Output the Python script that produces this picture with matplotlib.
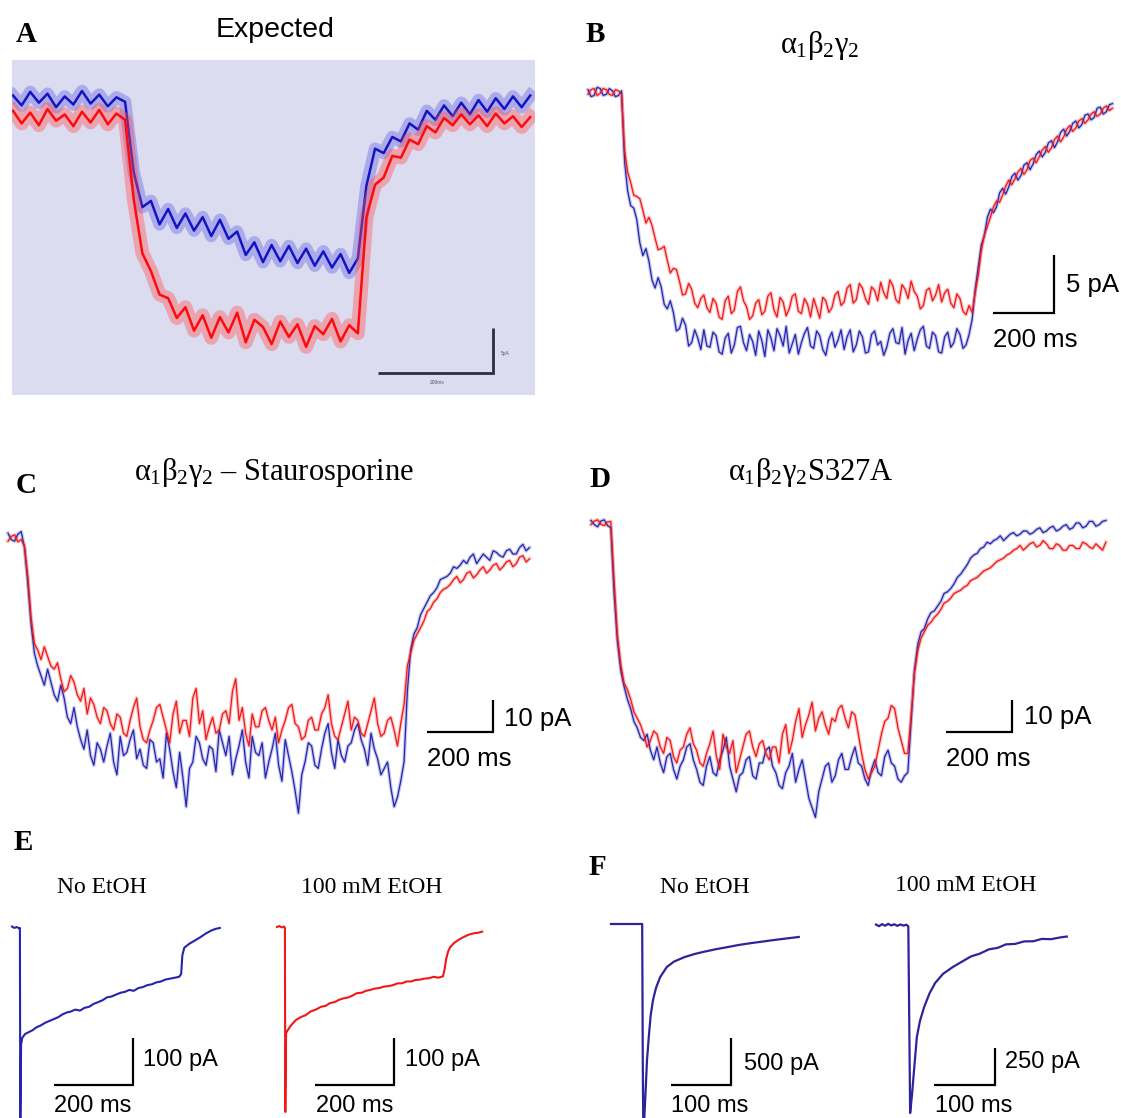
import numpy as np
import matplotlib
matplotlib.use('Agg')
import matplotlib.pyplot as plt

plt.rcParams['mathtext.fontset'] = 'custom'
plt.rcParams['mathtext.rm'] = 'Liberation Serif'
plt.rcParams['mathtext.it'] = 'Liberation Serif'
plt.rcParams['mathtext.bf'] = 'Liberation Serif:bold'

# ---------------- DATA (ms, pA) ----------------
# Panel A "Expected" (sample interval 15 ms)
A_DT = 15
A_blue = [0.5, -0.6, 0.9, -0.3, 0.7, -0.8, 0.4, -0.5, 1.0, -0.4, 0.6, -0.7, 0.3, -0.2,
          -8.0, -11.9, -11.2, -13.8, -12.1, -14.2, -12.6, -14.5, -13.0, -15.1, -13.3, -15.4, -14.6, -17.2,
          -15.8, -18.0, -16.1, -17.9, -16.2, -18.1, -16.5, -18.4, -16.8, -18.6, -17.1, -19.2, -17.6,
          -9.5, -5.4, -5.9, -4.1, -4.6, -2.6, -3.3, -1.2, -2.2, -0.6, -1.8, -0.3, -1.6, 0.0, -1.3, 0.2,
          -1.0, 0.4, -0.8, 0.5]
A_red = [-1.2, -2.6, -1.4, -2.8, -1.0, -2.3, -1.6, -2.9, -1.3, -2.5, -1.1, -2.7, -1.5, -2.2,
         -11.0, -17.0, -19.0, -21.6, -22.0, -24.2, -23.0, -25.6, -23.9, -26.4, -24.1, -25.8, -23.6, -26.9,
         -24.4, -25.2, -27.1, -24.6, -26.3, -24.9, -27.4, -25.1, -26.0, -24.3, -26.8, -25.0, -25.9,
         -13.0, -9.4, -8.6, -6.2, -6.4, -4.4, -4.9, -2.9, -3.6, -2.0, -2.8, -1.6, -2.7, -1.7, -2.9,
         -1.5, -2.6, -1.8, -3.0, -1.9]
A_SCALE = (200, 5)

# Panel B alpha1beta2gamma2 (sample interval 10 ms)
B_DT = 10
B_blue = [0.2, -0.4, -0.3, 0.4, 0.3, -0.3, -0.2, 0.3, 0.1, -0.4, -0.3, 0.1,
          -6.0, -8.5, -9.8, -10.0, -11.0, -13.0, -14.1, -13.5, -14.6, -16.2, -16.9, -16.0, -16.8,
          -18.3, -18.7, -18.0, -19.0, -20.6, -20.4, -19.5, -20.1, -21.9, -21.6, -20.5, -21.2, -22.2,
          -20.5, -21.9, -22.0, -20.7, -21.0, -22.4, -22.6, -21.2, -20.8, -22.5, -21.8, -20.3, -20.2, -21.6,
          -22.3, -20.9, -21.5, -22.7, -20.6, -21.4, -22.8, -20.5, -21.2, -22.3, -20.4, -21.0, -21.9, -20.2,
          -22.5, -21.7, -20.9, -22.6, -21.6, -20.8, -20.3, -21.9, -22.1, -20.6, -21.0, -22.2, -22.7, -21.3,
          -20.7, -22.0, -21.4, -20.5, -22.2, -21.1, -20.5, -22.4, -21.8, -20.6, -21.1, -22.5, -22.4, -20.9,
          -20.6, -21.8, -21.5, -22.7, -22.0, -20.8, -20.4, -21.6, -21.7, -20.3, -22.6, -21.4, -20.8, -22.3,
          -21.3, -20.5, -20.2, -21.9, -22.1, -20.7, -21.0, -22.4, -22.5, -21.1, -20.7, -22.0, -21.6, -20.4,
          -20.9, -22.1, -21.8, -20.9,
          -19.6, -17.0, -15.1, -13.2, -12.4, -10.8, -10.1, -10.4, -9.9, -8.7, -8.3, -8.8, -8.2, -7.3,
          -7.0, -7.6, -7.2, -6.3, -6.1, -6.7, -6.2, -5.4, -5.1, -5.6, -5.2, -4.4, -4.2, -4.8, -4.3, -3.5,
          -3.2, -3.8, -3.4, -2.7, -2.5, -3.1, -2.8, -2.0, -1.9, -2.4, -2.2, -1.4, -1.3, -1.9, -1.7, -1.1,
          -1.0]
B_red = [-0.2, 0.2, 0.3, -0.3, -0.1, 0.3, 0.2, -0.2, -0.3, 0.2, 0.1, -0.2,
         -5.0, -6.9, -7.8, -8.9, -9.0, -9.2, -10.2, -11.3, -10.8, -11.5, -12.6, -13.6, -13.5, -13.3,
         -14.5, -15.6, -15.2, -15.3, -16.3, -17.5, -17.4, -16.5, -17.0, -18.2, -18.6, -17.8,
         -17.5, -18.6, -19.0, -17.8, -18.2, -19.4, -19.6, -18.0, -17.6, -19.1, -18.8, -17.2, -16.8, -18.0,
         -18.5, -19.6, -19.3, -18.2, -17.9, -19.2, -18.9, -17.6, -17.3, -18.8, -19.4, -17.7, -18.1, -19.3,
         -18.7, -17.6, -17.4, -18.9, -19.1, -17.8, -18.3, -19.4, -17.8, -18.6, -19.5, -17.7, -18.0, -19.0,
         -18.6, -17.5, -17.2, -18.4, -18.1, -16.9, -16.6, -18.2, -17.9, -16.5, -16.9, -17.8, -18.3, -16.8,
         -17.1, -18.0, -16.4, -17.3, -17.8, -16.2, -16.7, -17.9, -18.2, -16.6, -17.0, -17.8, -16.3, -17.2,
         -17.6, -18.7, -18.4, -17.1, -16.9, -18.0, -17.5, -16.6, -18.1, -17.3, -17.0, -18.2, -18.6, -17.4,
         -17.8, -18.9, -19.2, -18.4,
         -19.0, -17.3, -15.8, -13.7, -12.3, -11.6, -10.8, -9.9, -9.4, -9.5, -8.9, -8.1, -7.6, -8.0,
         -7.5, -6.9, -6.6, -7.1, -6.7, -5.9, -5.7, -6.1, -5.6, -5.0, -4.7, -5.2, -4.8, -4.1, -3.8, -4.3,
         -3.9, -3.2, -2.9, -3.4, -3.1, -2.5, -2.3, -2.7, -2.4, -1.9, -1.7, -2.1, -1.9, -1.4, -1.2, -1.6,
         -1.4]
B_SCALE = (200, 5)

# Panel C alpha1beta2gamma2 - Staurosporine (10 ms)
C_DT = 10
C_blue = [1.5, -0.5, -1.0, 1.2, 2.0, -3.0,
          -14, -27, -36, -40, -43, -46, -41, -45, -49, -51, -46, -50, -56, -58, -53, -59, -63, -66,
          -60, -68, -71, -64, -66, -70,
          -65, -61, -70, -74, -62, -68, -67, -63, -60, -69, -66, -71, -72, -63, -64, -70, -69, -75,
          -61, -66, -73, -78, -67, -75, -84, -72, -70, -62, -64, -69, -71, -65, -66, -73, -60, -64,
          -68, -62, -74, -69, -65, -60, -70, -75, -62, -67, -68, -64, -75, -70, -66, -61, -71, -76,
          -63, -68, -73, -79, -86, -74, -70, -64, -65, -71, -72, -66, -61, -58, -67, -72, -63, -68,
          -70, -65, -64, -60, -58, -63, -66, -71, -61, -66, -69, -74, -72, -70, -78, -84, -81, -76,
          -70, -48, -35, -30, -28, -24, -22, -20, -18, -17, -15.5, -13, -12.5, -12, -11, -9, -9.5,
          -8.5, -7, -8, -6, -5, -8, -6.5, -5, -6, -7, -4, -4.5, -5.5, -6, -4, -3.5, -5, -5, -3, -2,
          -4, -3]
C_red = [-1.0, 0.5, 1.0, -1.2, -0.5, -2.5,
         -12, -25, -33, -35, -38, -34, -37, -40, -41, -39, -44, -48, -47, -43, -45, -49, -51, -47,
         -55, -50, -52, -56, -58, -53,
         -54, -58, -60, -55, -56, -61, -62, -57, -53, -50, -59, -63, -64, -60, -57, -53, -52, -56,
         -60, -64, -55, -51, -61, -57, -57, -62, -50, -47, -58, -54, -63, -59, -56, -61, -60, -55,
         -54, -58, -48, -44, -57, -53, -61, -65, -55, -59, -59, -54, -53, -57, -60, -56, -64, -60,
         -57, -53, -52, -58, -59, -63, -62, -57, -56, -60, -60, -55, -53, -49, -58, -62, -63, -59,
         -55, -51, -60, -56, -57, -61, -62, -58, -54, -50, -58, -62, -61, -57, -56, -60, -65, -58,
         -52, -40, -36, -32, -30, -28, -26, -23, -22, -20, -19, -17, -16, -15.5, -14.5, -13, -12,
         -14, -13, -11, -10.5, -12.5, -11.5, -10, -9, -11, -10, -8.5, -8, -10, -9, -7.5, -7, -9, -8,
         -6, -5.5, -7.5, -6.5]
C_SCALE = (200, 10)

# Panel D alpha1beta2gamma2 S327A (10 ms)
D_DT = 10
D_blue = [0.8, -0.5, -1.2, 0.6, 1.0, -0.8, -1.5, -22,
          -37, -46, -51, -55, -58, -62, -64, -67, -68, -66, -71, -74,
          -70, -75, -78, -73, -72, -77, -80, -76, -74, -70, -69, -74, -77, -81, -82, -76, -73, -78,
          -79, -74, -71, -67, -76, -80, -84, -79, -78, -74, -73, -79, -80, -75, -75, -71, -70, -76,
          -78, -82, -83, -78, -76, -72, -81, -77, -74, -80, -86, -89, -92, -84, -80, -76, -75, -81,
          -79, -74, -72, -77, -77, -73, -70, -75, -76, -80, -82, -77, -74, -78, -79, -73, -71, -75,
          -76, -80, -81, -79,
          -78, -62, -46, -38, -34, -33, -30, -28, -27.5, -26, -24.5, -22, -21.5, -20.5, -19, -17,
          -16, -14.5, -13, -11, -10, -9.5, -8, -7.5, -6, -6.5, -5.5, -5, -4, -5.5, -4.5, -3.5, -3, -4,
          -3.5, -2.5, -2.5, -3.5, -3, -2, -1.5, -3, -2.5, -1.5, -1, -2.5, -2, -1, -0.5, -2, -1.5, 0, 0,
          -1.5, -1, 0.5, 0.5, -1, -0.5, 0.5, 0.8]
D_red = [-0.5, 0.6, 1.0, -0.4, -0.8, 0.3, 0.5, -18,
         -35, -44, -50, -52, -55, -59, -61, -63, -66, -70, -68, -65,
         -66, -70, -72, -67, -68, -73, -75, -71, -70, -66, -64, -69, -71, -75, -76, -72, -69, -65,
         -73, -77, -66, -70, -72, -68, -78, -74, -70, -66, -65, -70, -73, -69, -68, -72, -74, -70,
         -70, -75, -66, -63, -72, -68, -62, -58, -67, -63, -60, -56, -65, -61, -59, -63, -66, -61,
         -62, -58, -57, -61, -64, -59, -60, -66, -72, -77, -80, -78, -76, -71, -66, -62, -61, -57,
         -58, -64, -68, -72,
         -72, -60, -47, -40, -36, -34, -32, -31, -29.5, -28.5, -27, -25, -24.5, -23.5, -22, -21.5,
         -21, -20, -19.5, -18, -17.5, -17, -16, -15, -14.5, -14, -13, -12, -11.5, -11, -10, -9.5,
         -8.5, -8, -7, -8.5, -7.5, -6.5, -6, -7.5, -7, -5.5, -6.5, -8, -8, -6.5, -7, -8.5, -8.5, -7,
         -7, -8, -8, -6, -6.5, -7.5, -8, -6.5, -7.5, -8.5, -6]
D_SCALE = (200, 10)

# Panel E (explicit sample times, ms)
E_t_blue = [0, 6, 12, 18, 20, 21, 23, 26, 33, 42, 52, 61, 72, 84, 95, 106, 117, 128, 139, 149,
            160, 172, 184, 195, 206, 218, 229, 240, 252, 263, 275, 286, 297, 308, 320, 331, 342,
            354, 365, 377, 388, 400, 412, 423, 428, 431, 436, 448, 460, 476, 490, 503, 515, 526]
E_i_blue = [1, -2, 0, -3, -2, -440, -250, -236, -228, -224, -220, -214, -210, -204, -200, -196,
            -192, -186, -182, -180, -176, -178, -172, -170, -164, -160, -156, -150, -148, -144,
            -140, -138, -134, -136, -130, -128, -124, -122, -118, -116, -112, -110, -108, -106,
            -100, -60, -44, -36, -30, -22, -14, -8, -4, -2]
E_t_red = [0, 6, 12, 18, 20, 21, 23, 27, 35, 48, 60, 72, 85, 98, 111, 123, 134, 146, 157, 168,
           180, 191, 202, 214, 225, 236, 248, 259, 270, 282, 293, 305, 316, 328, 339, 350, 362,
           373, 385, 396, 408, 420, 424, 428, 433, 438, 448, 460, 473, 486, 500, 510, 519]
E_i_red = [0, 2, -1, 1, -2, -394, -226, -220, -210, -198, -192, -188, -180, -176, -170, -168,
           -162, -160, -155, -152, -150, -146, -141, -140, -136, -134, -131, -130, -127, -126,
           -124, -120, -120, -116, -116, -113, -112, -110, -109, -106, -108, -105, -90, -68, -52,
           -43, -34, -27, -21, -16, -13, -12, -10]
E_SCALE = (200, 100)

# Panel F
F_t_left = [0, 20, 40, 52, 53, 54, 56, 58, 60, 63, 66, 70, 75, 82, 93, 105, 123, 140, 153, 175,
            195, 213, 235, 255, 272, 295, 313]
F_i_left = [0, 0, 0, 0, -1500, -2300, -2000, -1734, -1450, -1202, -980, -809, -680, -564, -458,
            -400, -351, -318, -298, -268, -245, -223, -202, -185, -170, -152, -138]
F_t_right = [0, 5, 10, 15, 20, 25, 30, 35, 40, 45, 50, 53, 56, 59, 62, 67, 72, 79, 88, 97, 110,
             126, 140, 156, 170, 185, 200, 213, 228, 243, 258, 272, 287, 302, 313]
F_i_right = [3, -8, 6, -5, 8, -3, 5, -6, 4, -4, 2, -10, -1271, -1150, -1000, -757, -650, -554,
             -460, -392, -330, -284, -250, -212, -194, -165, -154, -131, -128, -111, -110, -94,
             -96, -84, -78]
F_SCALE_LEFT = (100, 500)
F_SCALE_RIGHT = (100, 250)

# ---------------- FIGURE ----------------
W, H = 1121, 1118
fig = plt.figure(figsize=(W / 100, H / 100), dpi=100)
fig.patch.set_facecolor('white')

SERIF = 'Liberation Serif'
SANS = 'Liberation Sans'
BLUE = '#2424b0'
RED = '#f21616'
NAVY = '#2c2498'


def panel_axes(box, x_origin, ms_per_px, y_base, pa_per_px, face=None):
    x0, y0, x1, y1 = box
    ax = fig.add_axes([x0 / W, 1 - y1 / H, (x1 - x0) / W, (y1 - y0) / H])
    ax.set_xlim((x0 - x_origin) * ms_per_px, (x1 - x_origin) * ms_per_px)
    ax.set_ylim(-(y1 - y_base) * pa_per_px, (y_base - y0) * pa_per_px)
    if face:
        ax.set_facecolor(face)
        ax.set_xticks([])
        ax.set_yticks([])
        for s in ax.spines.values():
            s.set_visible(False)
    else:
        ax.axis('off')
    ax.m = (x_origin, ms_per_px, y_base, pa_per_px)
    return ax


def px2data(ax, px, py):
    xo, mpp, yb, ppp = ax.m
    return (px - xo) * mpp, -(py - yb) * ppp


def scale_bar(ax, px_right, py_bottom, lengths, color='black', lw=1.6):
    xr, yb = px2data(ax, px_right, py_bottom)
    tl, il = lengths
    ax.plot([xr - tl, xr, xr], [yb, yb, yb + il], color=color, lw=lw,
            solid_joinstyle='miter', solid_capstyle='butt', clip_on=False)


def ftext(px, py, s, **kw):
    fig.text(px / W, 1 - py / H, s, **kw)


def sample_times(vals, dt):
    return np.arange(len(vals)) * dt


def noisy(ax, vals, dt, color):
    t = sample_times(vals, dt)
    ax.plot(t, vals, color=color, lw=2.6, alpha=0.25)
    ax.plot(t, vals, color=color, lw=0.9)


# Panel A
axA = panel_axes((12, 60, 535, 395), 13, 1.74, 100, 0.111, face='#dcdcf1')
tA = sample_times(A_blue, A_DT)
axA.plot(tA, A_blue, color='#5050e0', lw=9, alpha=0.35, solid_joinstyle='round')
axA.plot(tA, A_blue, color='#1414c4', lw=1.8)
tA2 = sample_times(A_red, A_DT)
axA.plot(tA2, A_red, color='#ff5050', lw=10, alpha=0.4, solid_joinstyle='round')
axA.plot(tA2, A_red, color='#ff0a0a', lw=1.8)
scale_bar(axA, 493, 373, A_SCALE, color='#2e2e40', lw=2.0)
ftext(501, 354, '5pA', fontsize=3.5, color='#555566', family=SANS, va='center')
ftext(437, 382, '200ms', fontsize=3.5, color='#555566', family=SANS, va='center', ha='center')

# Panel B
axB = panel_axes((580, 60, 1121, 400), 588, 3.28, 92, 0.0862)
noisy(axB, B_blue, B_DT, BLUE)
noisy(axB, B_red, B_DT, RED)
scale_bar(axB, 1054, 313, B_SCALE)

# Panel C
axC = panel_axes((0, 505, 560, 830), 8, 3.03, 538, 0.3125)
noisy(axC, C_blue, C_DT, BLUE)
noisy(axC, C_red, C_DT, RED)
scale_bar(axC, 493, 732, C_SCALE)

# Panel D
axD = panel_axes((575, 500, 1121, 830), 591, 3.03, 523, 0.3125)
noisy(axD, D_blue, D_DT, BLUE)
noisy(axD, D_red, D_DT, RED)
scale_bar(axD, 1012, 732, D_SCALE)

# Panel E
axE1 = panel_axes((0, 900, 262, 1118), 12, 2.53, 927, 2.13)
axE1.plot(E_t_blue, E_i_blue, color=BLUE, lw=1.5)
scale_bar(axE1, 133, 1085, E_SCALE)
axE2 = panel_axes((262, 900, 560, 1118), 277, 2.53, 927, 2.13)
axE2.plot(E_t_red, E_i_red, color=RED, lw=1.5)
scale_bar(axE2, 394, 1085, E_SCALE)

# Panel F
axF1 = panel_axes((560, 900, 860, 1118), 611, 1.667, 924, 10.64)
axF1.plot(F_t_left, F_i_left, color=NAVY, lw=1.6)
scale_bar(axF1, 731, 1085, F_SCALE_LEFT)
axF2 = panel_axes((860, 900, 1121, 1118), 876, 1.64, 925, 6.76)
axF2.plot(F_t_right, F_i_right, color=NAVY, lw=1.6)
scale_bar(axF2, 995, 1085, F_SCALE_RIGHT)

# ---------------- TEXT ----------------
lab = dict(fontsize=21, family=SERIF, fontweight='bold', ha='center', va='baseline')
ftext(26, 42, 'A', **lab)
ftext(595, 42, 'B', **lab)
ftext(26, 493, 'C', **lab)
ftext(600, 487, 'D', **lab)
ftext(23, 850, 'E', **lab)
ftext(597, 875, 'F', **lab)

ftext(275, 37, 'Expected', fontsize=20.5, family=SANS, ha='center', va='baseline')
tt = dict(fontsize=22, family=SERIF, ha='center', va='baseline')
ftext(820, 53, r'$\alpha_1\beta_2\gamma_2$', **tt)
ftext(274, 480, r'$\alpha_1\beta_2\gamma_2$ – Staurosporine', **tt)
ftext(811, 480, r'$\alpha_1\beta_2\gamma_2$S327A', **tt)

et = dict(fontsize=17, family=SERIF, ha='center', va='baseline')
ftext(102, 893, 'No EtOH', **et)
ftext(372, 893, '100 mM EtOH', **et)
ftext(705, 893, 'No EtOH', **et)
ftext(966, 891, '100 mM EtOH', **et)

sb = dict(fontsize=18.5, family=SANS, ha='left', va='baseline')
ftext(1066, 292, '5 pA', **sb)
ftext(993, 347, '200 ms', **sb)
ftext(504, 726, '10 pA', **sb)
ftext(427, 766, '200 ms', **sb)
ftext(1024, 724, '10 pA', **sb)
ftext(946, 766, '200 ms', **sb)

sb2 = dict(fontsize=17, family=SANS, ha='left', va='baseline')
ftext(143, 1066, '100 pA', **sb2)
ftext(54, 1112, '200 ms', **sb2)
ftext(405, 1066, '100 pA', **sb2)
ftext(316, 1112, '200 ms', **sb2)
ftext(744, 1070, '500 pA', **sb2)
ftext(671, 1112, '100 ms', **sb2)
ftext(1005, 1068, '250 pA', **sb2)
ftext(935, 1112, '100 ms', **sb2)

fig.savefig('out.png', dpi=100, facecolor='white')
